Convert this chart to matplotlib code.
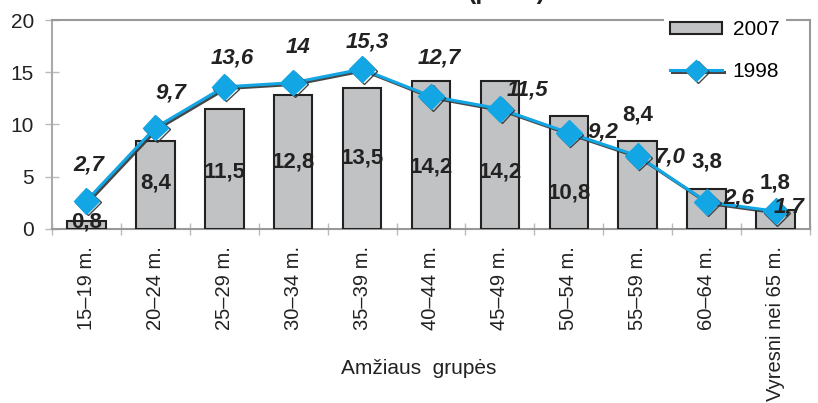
import matplotlib
matplotlib.use("Agg")
import matplotlib.pyplot as plt
import matplotlib.patheffects as pe
import numpy as np

plt.rcParams['font.family'] = ['Liberation Sans', 'DejaVu Sans']

categories = ["15–19 m.", "20–24 m.", "25–29 m.", "30–34 m.", "35–39 m.",
              "40–44 m.", "45–49 m.", "50–54 m.", "55–59 m.", "60–64 m.",
              "Vyresni nei 65 m."]
values_2007 = [0.8, 8.4, 11.5, 12.8, 13.5, 14.2, 14.2, 10.8, 8.4, 3.8, 1.8]
values_1998 = [2.7, 9.7, 13.6, 14.0, 15.3, 12.7, 11.5, 9.2, 7.0, 2.6, 1.7]
labels_2007 = ["0,8", "8,4", "11,5", "12,8", "13,5", "14,2", "14,2", "10,8", "8,4", "3,8", "1,8"]
labels_1998 = ["2,7", "9,7", "13,6", "14", "15,3", "12,7", "11,5", "9,2", "7,0", "2,6", "1,7"]
yticks = [0, 5, 10, 15, 20]
xlabel = "Amžiaus  grupės"
title = "(proc.)"

# label placement (styling): y positions of bar labels, offsets of line labels
bar_label_y = [0.67, 4.4, 5.45, 6.41, 6.79, 5.93, 5.45, 3.44, 10.9, 6.41, 4.4]
line_label_dx = [0.04, 0.22, 0.12, 0.07, 0.07, 0.12, 0.40, 0.49, 0.46, 0.47, 0.20]
line_label_dy = [3.4, 3.3, 2.8, 3.4, 2.6, 3.7, 1.8, 0.1, -0.1, 0.37, 0.4]

W, H = 818, 403
fig = plt.figure(figsize=(W / 100, H / 100), dpi=100)
ax = fig.add_axes([52 / W, (H - 229) / H, (810 - 52) / W, (229 - 20) / H])

x = np.arange(len(categories))
bars = ax.bar(x, values_2007, width=0.56, color="#c1c2c4", edgecolor="#222222",
              linewidth=1.5, label="2007", zorder=3)
line, = ax.plot(x, values_1998, color="#12a6e4", lw=2.2, marker="D", markersize=13,
                markeredgecolor="#12a6e4", label="1998", zorder=4,
                path_effects=[pe.SimpleLineShadow(offset=(1.2, -1.2), shadow_color="#333333", alpha=0.9),
                              pe.Normal()])

for i in range(len(categories)):
    ax.text(x[i], bar_label_y[i], labels_2007[i], ha="center", va="center",
            fontsize=16, fontweight="bold", color="#222222", zorder=5)
    ax.text(x[i] + line_label_dx[i], values_1998[i] + line_label_dy[i], labels_1998[i],
            ha="center", va="center", fontsize=16, fontweight="bold", fontstyle="italic",
            color="#222222", zorder=5)

ax.set_xlim(-0.5, len(categories) - 0.5)
ax.set_ylim(0, 20)
ax.set_yticks(yticks)
ax.set_yticklabels([str(v) for v in yticks], fontsize=15, color="#222222")
ax.set_xticks(x)
ax.set_xticklabels(categories, rotation=90, fontsize=14.5, color="#222222")
ax.tick_params(axis="x", length=0, pad=12)
ax.set_xticks(np.arange(len(categories) + 1) - 0.5, minor=True)
ax.tick_params(axis="x", which="minor", length=8, direction="inout", color="#bbbbbb", width=1)
ax.tick_params(axis="y", length=10, direction="inout", color="#bbbbbb", width=1, pad=8)

for s in ["top", "right"]:
    ax.spines[s].set_color("#999999")
    ax.spines[s].set_linewidth(1.5)
ax.spines["left"].set_color("#aaaaaa")
ax.spines["left"].set_linewidth(1.5)
ax.spines["bottom"].set_color("#999999")
ax.spines["bottom"].set_linewidth(1.5)

fig.text(419 / W, 1 - 368 / H, xlabel, ha="center", va="center", fontsize=15, color="#222222")
fig.text(507 / W, 1 + 1 / H, title, ha="center", va="baseline", fontsize=18, fontweight="bold",
         color="#222222")

leg = ax.legend(handles=[bars, line], loc="upper left", bbox_to_anchor=(664 / W, 1 - 14 / H),
                bbox_transform=fig.transFigure, frameon=True, fancybox=False,
                edgecolor="none", facecolor="white", framealpha=1, fontsize=15,
                handlelength=2.5, handleheight=0.5, labelspacing=1.1, handletextpad=0.5,
                borderpad=0.3, borderaxespad=0)
for h in leg.legend_handles[1:]:
    h.set_markersize(11)

fig.savefig("out.png", dpi=100)
